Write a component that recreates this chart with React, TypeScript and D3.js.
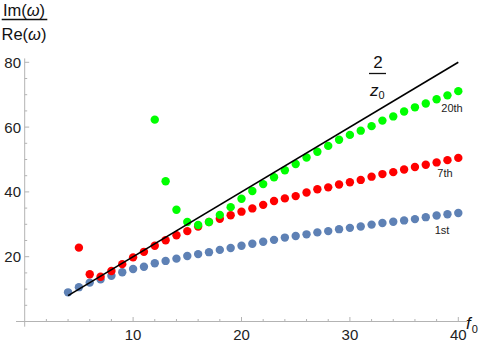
import React, { useEffect, useRef } from 'react';
import * as d3 from 'd3';

// f0 values per series
const f0First = d3.range(4, 41);
const f0Seventh = d3.range(5, 41);
const f0Twentieth = d3.range(12, 41);

// Im(w)/Re(w)
const first = [
  9.0, 10.6, 12.0, 13.0, 14.1, 15.2, 16.2, 16.9, 18.0, 18.7, 19.4, 20.2, 20.8,
  21.4, 22.1, 22.7, 23.4, 24.0, 24.6, 25.2, 25.9, 26.4, 26.9, 27.5, 27.9, 28.5,
  28.9, 29.3, 29.9, 30.4, 30.8, 31.2, 31.6, 32.2, 32.7, 33.1, 33.5,
];
const seventh = [
  22.8, 14.6, 13.8, 15.6, 17.7, 19.8, 21.5, 23.4, 25.1, 26.6, 27.9, 29.3, 30.7,
  31.7, 32.8, 33.9, 34.9, 36.0, 37.2, 38.0, 38.7, 39.8, 40.8, 41.4, 42.3, 43.0,
  43.7, 44.7, 45.5, 46.1, 46.9, 47.7, 48.4, 49.1, 49.8, 50.5,
];
const twentieth = [
  62.3, 43.3, 34.5, 30.7, 29.8, 30.7, 32.9, 35.3, 37.9, 40.3, 42.4, 44.5, 46.7,
  48.6, 50.6, 52.4, 54.2, 56.1, 57.6, 58.9, 60.3, 62.0, 63.3, 64.8, 66.1, 67.3,
  68.6, 69.8, 71.1,
];

// reference line 2/z0 = 2 f0
const lineX = [4, 40];
const lineY = [8, 80];

const xTicks = [10, 20, 30, 40];
const yTicks = [20, 40, 60, 80];

const App = () => {
  const svgRef = useRef<SVGSVGElement>(null);

  useEffect(() => {
    const svg = d3.select(svgRef.current);
    svg.selectAll('*').remove();

    const x = d3.scaleLinear().domain([0, 40]).range([24.7, 458.3]);
    const y = d3.scaleLinear().domain([0, 80]).range([321.5, 62.3]);

    const font = 'Liberation Sans, Arial, sans-serif';
    const axisColor = '#b3b3b3';

    // axes
    svg.append('line')
      .attr('x1', x(-0.8)).attr('x2', x(40.8))
      .attr('y1', y(0)).attr('y2', y(0))
      .attr('stroke', axisColor).attr('stroke-width', 1);
    svg.append('line')
      .attr('x1', x(0)).attr('x2', x(0))
      .attr('y1', y(-1.6)).attr('y2', y(81.2))
      .attr('stroke', axisColor).attr('stroke-width', 1);

    // x ticks
    svg.selectAll('.xminor')
      .data(d3.range(2, 41, 2).filter((d) => d % 10 !== 0))
      .enter().append('line')
      .attr('x1', (d) => x(d)).attr('x2', (d) => x(d))
      .attr('y1', y(0)).attr('y2', y(0) - 2.5)
      .attr('stroke', axisColor);
    svg.selectAll('.xmajor')
      .data(xTicks)
      .enter().append('line')
      .attr('x1', (d) => x(d)).attr('x2', (d) => x(d))
      .attr('y1', y(0)).attr('y2', y(0) - 4.5)
      .attr('stroke', axisColor);
    svg.selectAll('.xlabel')
      .data(xTicks)
      .enter().append('text')
      .attr('x', (d) => x(d)).attr('y', 340)
      .attr('text-anchor', 'middle')
      .attr('font-family', font).attr('font-size', 15)
      .attr('fill', '#222')
      .text((d) => d);

    // y ticks
    svg.selectAll('.yminor')
      .data(d3.range(5, 81, 5).filter((d) => d % 20 !== 0))
      .enter().append('line')
      .attr('x1', x(0)).attr('x2', x(0) + 2.5)
      .attr('y1', (d) => y(d)).attr('y2', (d) => y(d))
      .attr('stroke', axisColor);
    svg.selectAll('.ymajor')
      .data(yTicks)
      .enter().append('line')
      .attr('x1', x(0)).attr('x2', x(0) + 4.5)
      .attr('y1', (d) => y(d)).attr('y2', (d) => y(d))
      .attr('stroke', axisColor);
    svg.selectAll('.ylabel')
      .data(yTicks)
      .enter().append('text')
      .attr('x', 21).attr('y', (d) => y(d) + 5.5)
      .attr('text-anchor', 'end')
      .attr('font-family', font).attr('font-size', 15)
      .attr('fill', '#222')
      .text((d) => d);

    // points
    const series = [
      { xs: f0First, ys: first, color: '#5e81b5' },
      { xs: f0Seventh, ys: seventh, color: '#ff0000' },
      { xs: f0Twentieth, ys: twentieth, color: '#00ff00' },
    ];
    series.forEach((s) => {
      svg.append('g')
        .selectAll('circle')
        .data(s.ys)
        .enter().append('circle')
        .attr('cx', (d, i) => x(s.xs[i]))
        .attr('cy', (d) => y(d))
        .attr('r', 4.2)
        .attr('fill', s.color);
    });

    // 2/z0 line
    const line = d3.line<number>()
      .x((d, i) => x(lineX[i]))
      .y((d) => y(d));
    svg.append('path')
      .attr('d', line(lineY))
      .attr('fill', 'none')
      .attr('stroke', '#000')
      .attr('stroke-width', 1.6);

    // series labels
    const lab = [
      { t: '20th', x: 452, y: 112 },
      { t: '7th', x: 445, y: 177 },
      { t: '1st', x: 442, y: 234 },
    ];
    svg.selectAll('.slabel')
      .data(lab)
      .enter().append('text')
      .attr('x', (d) => d.x).attr('y', (d) => d.y)
      .attr('text-anchor', 'middle')
      .attr('font-family', font).attr('font-size', 11)
      .attr('fill', '#222')
      .text((d) => d.t);

    // 2/z0 label
    const fr = svg.append('g').attr('font-family', font).attr('fill', '#111');
    fr.append('text').attr('x', 378).attr('y', 68).attr('text-anchor', 'middle')
      .attr('font-size', 17).text('2');
    fr.append('line').attr('x1', 369).attr('x2', 386).attr('y1', 73.5).attr('y2', 73.5)
      .attr('stroke', '#111').attr('stroke-width', 1.3);
    const zt = fr.append('text').attr('x', 370).attr('y', 96).attr('font-size', 17);
    zt.append('tspan').attr('font-style', 'italic').text('z');
    zt.append('tspan').attr('font-size', 11).attr('dy', 3).text('0');

    // f0 axis label
    const ft = svg.append('text').attr('x', 466).attr('y', 329)
      .attr('font-family', font).attr('font-size', 17).attr('fill', '#111');
    ft.append('tspan').attr('font-style', 'italic').text('f');
    ft.append('tspan').attr('font-size', 11).attr('dy', 4).attr('dx', 1).text('0');

    // Im/Re label
    const yl = svg.append('g').attr('font-family', font).attr('font-size', 16.5).attr('fill', '#111');
    const im = yl.append('text').attr('x', 24).attr('y', 16).attr('text-anchor', 'middle');
    im.append('tspan').text('Im(');
    im.append('tspan').attr('font-style', 'italic').text('ω');
    im.append('tspan').text(')');
    yl.append('line').attr('x1', 1.7).attr('x2', 47.3).attr('y1', 19.5).attr('y2', 19.5)
      .attr('stroke', '#111').attr('stroke-width', 1.3);
    const re = yl.append('text').attr('x', 24).attr('y', 40).attr('text-anchor', 'middle');
    re.append('tspan').text('Re(');
    re.append('tspan').attr('font-style', 'italic').text('ω');
    re.append('tspan').text(')');
  }, []);

  return (
    <svg
      ref={svgRef}
      width={485}
      height={343}
      style={{ position: 'absolute', left: 0, top: 0, background: '#fff' }}
    ></svg>
  );
};

export default App;
